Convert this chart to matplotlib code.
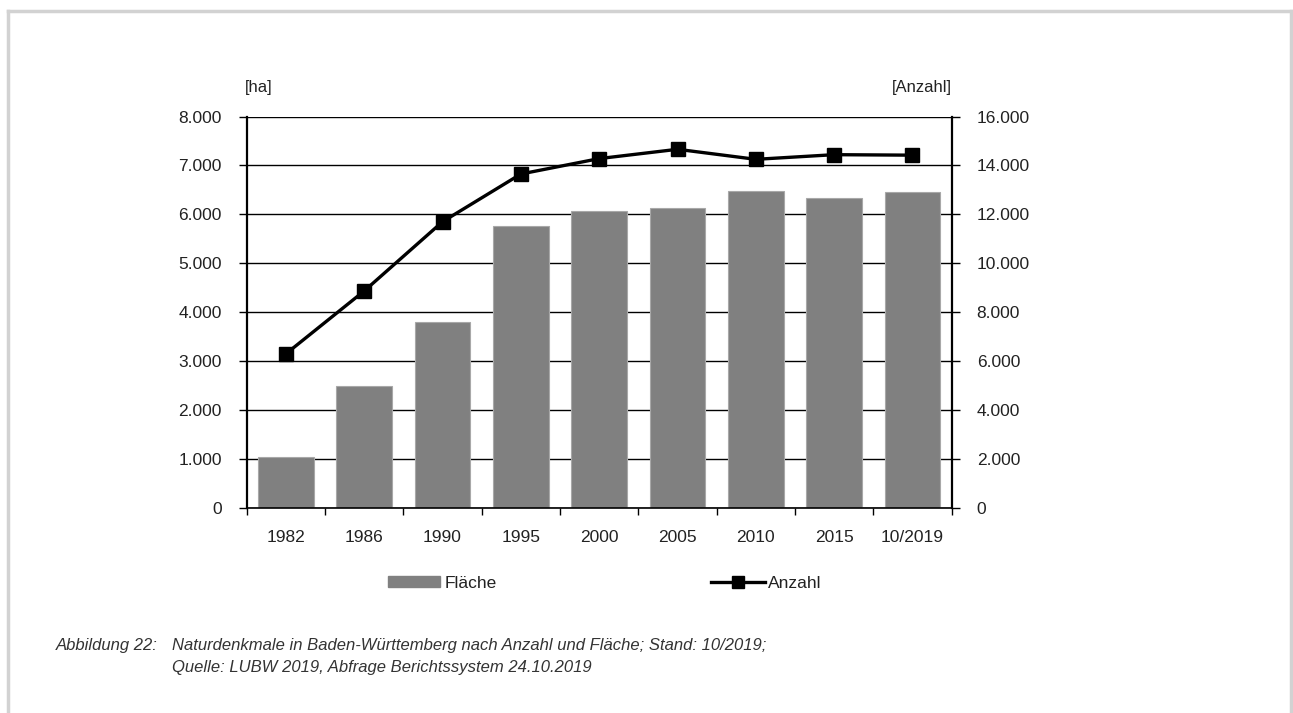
import matplotlib
matplotlib.use('Agg')
import matplotlib.pyplot as plt
from matplotlib.ticker import FuncFormatter, FixedLocator
from matplotlib.lines import Line2D
from matplotlib.patches import Patch

# Daten
jahre = ['1982', '1986', '1990', '1995', '2000', '2005', '2010', '2015', '10/2019']
flaeche = [1040, 2500, 3800, 5760, 6060, 6130, 6480, 6330, 6450]   # [ha]
anzahl = [6300, 8870, 11700, 13650, 14280, 14660, 14250, 14440, 14420]
links_ticks = [0, 1000, 2000, 3000, 4000, 5000, 6000, 7000, 8000]
rechts_ticks = [0, 2000, 4000, 6000, 8000, 10000, 12000, 14000, 16000]

plt.rcParams['font.family'] = ['Liberation Sans', 'DejaVu Sans']
txt = '#222222'

def de_fmt(v, pos=None):
    return f'{int(v):,}'.replace(',', '.')

fig = plt.figure(figsize=(12.93, 7.13), dpi=100)
ax = fig.add_axes([0.1908, 0.2875, 0.7360 - 0.1908, 0.8366 - 0.2875])
ax2 = ax.twinx()

x = list(range(len(jahre)))
ax.bar(x, flaeche, width=0.71, color='#808080', edgecolor='#a8a8a8', linewidth=0.8, zorder=2)
ax2.plot(x, anzahl, color='black', lw=2.4, marker='s', markersize=9.5, zorder=3)

ax.set_xlim(-0.5, len(jahre) - 0.5)
ax.set_ylim(0, 8000)
ax2.set_ylim(0, 16000)
ax.set_yticks(links_ticks)
ax2.set_yticks(rechts_ticks)
ax.yaxis.set_major_formatter(FuncFormatter(de_fmt))
ax2.yaxis.set_major_formatter(FuncFormatter(de_fmt))

# Kategorien: Striche zwischen den Balken, Beschriftung in der Mitte
ax.xaxis.set_major_locator(FixedLocator([i - 0.5 for i in range(len(jahre) + 1)]))
ax.xaxis.set_minor_locator(FixedLocator(x))
ax.set_xticklabels([], minor=False)
ax.set_xticklabels(jahre, minor=True)
ax.tick_params(axis='x', which='major', direction='out', length=5, width=1, color='black')
ax.tick_params(axis='x', which='minor', length=0, pad=16, labelsize=12.5, labelcolor=txt)
ax.tick_params(axis='y', direction='out', length=6, width=1, pad=12, labelsize=12.5, labelcolor=txt)
ax2.tick_params(axis='y', direction='out', length=6, width=1, pad=12, labelsize=12.5, labelcolor=txt)

ax.grid(axis='y', color='black', lw=1.0)
ax.set_axisbelow(True)

for s in ['top', 'right']:
    ax.spines[s].set_visible(False)
for s in ['top', 'left', 'bottom']:
    ax2.spines[s].set_visible(False)
ax.spines['left'].set_linewidth(1.6)
ax.spines['bottom'].set_linewidth(1.2)
ax2.spines['right'].set_linewidth(1.6)

fig.text(0.1895, 0.877, '[ha]', fontsize=12, color=txt, ha='left', va='center')
fig.text(0.7360, 0.877, '[Anzahl]', fontsize=12, color=txt, ha='right', va='center')

# Legende
leg1 = fig.legend(handles=[Patch(color='#808080', label='Fläche')], loc='center left',
                  bbox_to_anchor=(0.293, 0.182), frameon=False, fontsize=12.5,
                  handlelength=3.0, handleheight=0.55, handletextpad=0.3, borderpad=0, labelcolor=txt)
leg2 = fig.legend(handles=[Line2D([], [], color='black', lw=2.4, marker='s', markersize=8, label='Anzahl')],
                  loc='center left', bbox_to_anchor=(0.543, 0.182), frameon=False, fontsize=12.5,
                  handlelength=3.1, handletextpad=0.2, borderpad=0, labelcolor=txt)

# Bildunterschrift
cap = dict(fontsize=12, style='italic', color='#333333', va='center', ha='left')
fig.text(0.043, 0.094, 'Abbildung 22:', **cap)
fig.text(0.133, 0.094, 'Naturdenkmale in Baden-Württemberg nach Anzahl und Fläche; Stand: 10/2019;', **cap)
fig.text(0.133, 0.064, 'Quelle: LUBW 2019, Abfrage Berichtssystem 24.10.2019', **cap)

# grauer Rahmen
rahmen = dict(color='#d2d2d2', lw=2.5, transform=fig.transFigure)
fig.add_artist(Line2D([0.0065, 0.9985], [0.9845, 0.9845], **rahmen))
fig.add_artist(Line2D([0.0065, 0.0065], [0.0, 0.9845], **rahmen))
fig.add_artist(Line2D([0.9985, 0.9985], [0.0, 0.9845], **rahmen))

fig.savefig('out.png', dpi=100)
